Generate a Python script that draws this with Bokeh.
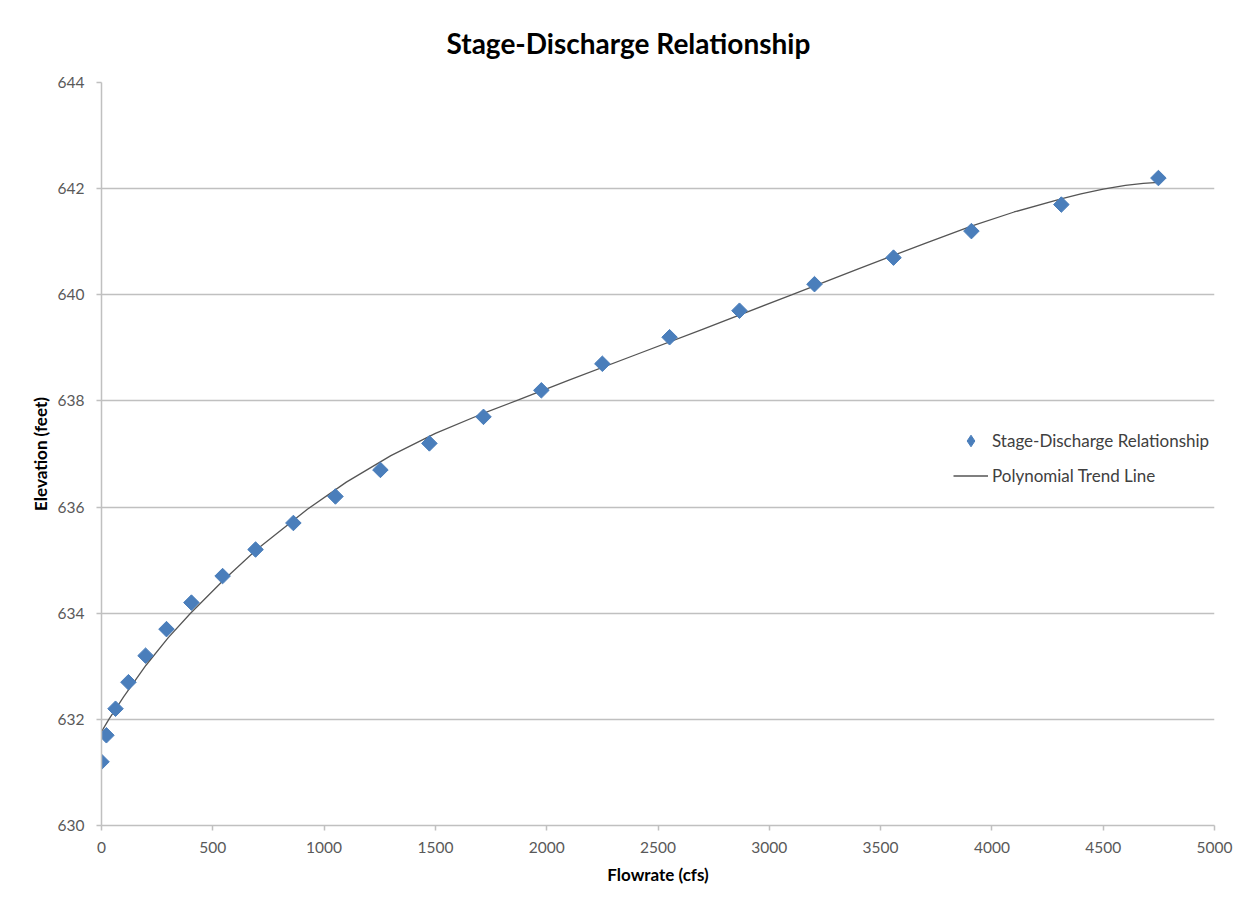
import math
from bokeh.plotting import figure
from bokeh.models import Range1d, Legend, LegendItem, FixedTicker, BoxAnnotation
from bokeh.embed import file_html
from bokeh.resources import INLINE

# ---- data ----
flow_cfs = [0, 22, 63, 121, 198, 292, 404, 544, 692, 862, 1051, 1253, 1473,
            1716, 1976, 2250, 2552, 2866, 3203, 3558, 3908, 4312, 4748]
elevation_ft = [631.2, 631.7, 632.2, 632.7, 633.2, 633.7, 634.2, 634.7, 635.2,
                635.7, 636.2, 636.7, 637.2, 637.7, 638.2, 638.7, 639.2, 639.7,
                640.2, 640.7, 641.2, 641.7, 642.2]

# polynomial trend line
trend_flow = [0, 33, 100, 200, 300, 400, 550, 700, 925, 1100, 1300, 1500, 1700,
              1873, 2100, 2400, 2700, 3100, 3400, 3700, 3911, 4100, 4315, 4400,
              4500, 4600, 4680, 4748]
trend_elev = [631.77, 632.00, 632.43, 633.02, 633.54, 634.00, 634.63, 635.21,
              635.96, 636.47, 636.97, 637.39, 637.74, 638.02, 638.39, 638.87,
              639.35, 640.00, 640.49, 640.97, 641.30, 641.56, 641.81, 641.90,
              641.99, 642.06, 642.10, 642.12]

x_ticks = [0, 500, 1000, 1500, 2000, 2500, 3000, 3500, 4000, 4500, 5000]
y_ticks = [630, 632, 634, 636, 638, 640, 642, 644]

title_text = "Stage-Discharge Relationship"
x_title = "Flowrate (cfs)"
y_title = "Elevation (feet)"
series_name = "Stage-Discharge Relationship"
trend_name = "Polynomial Trend Line"

FONT = "Lato"
GRID = "#C0C0C0"
TICKTXT = "#595959"
BLUE = "#4A7EBB"

p = figure(width=1235, height=891, output_backend="svg", toolbar_location=None,
           x_range=Range1d(0, 5000), y_range=Range1d(630, 644),
           min_border_left=101, min_border_right=21, min_border_top=82,
           min_border_bottom=66)
p.outline_line_color = None
p.background_fill_color = "white"
p.border_fill_color = "white"

# title
p.title.text = title_text
p.title.align = "left"
p.title.offset = 345
p.title.standoff = 45
p.title.text_font = FONT
p.title.text_font_style = "bold"
p.title.text_font_size = "28px"
p.title.text_color = "#000000"

# axes
for ax in (p.xaxis[0], p.yaxis[0]):
    ax.axis_line_color = GRID
    ax.axis_line_width = 1.5
    ax.major_tick_line_color = GRID
    ax.major_tick_line_width = 1.5
    ax.major_tick_out = 5
    ax.major_tick_in = 0
    ax.minor_tick_line_color = None
    ax.major_label_text_font = FONT
    ax.major_label_text_font_size = "15.5px"
    ax.major_label_text_color = TICKTXT
    ax.axis_label_text_font = FONT
    ax.axis_label_text_font_style = "bold"
    ax.axis_label_text_font_size = "17px"
    ax.axis_label_text_color = "#000000"

p.xaxis.ticker = FixedTicker(ticks=x_ticks)
p.yaxis.ticker = FixedTicker(ticks=y_ticks)
p.xaxis.axis_label = x_title
p.yaxis.axis_label = y_title
p.xaxis.major_label_standoff = 11
p.yaxis.major_label_standoff = 12
p.xaxis.axis_label_standoff = 8
p.yaxis.axis_label_standoff = 4

p.xgrid.grid_line_color = None
p.ygrid.grid_line_color = GRID
p.ygrid.grid_line_width = 1.5

# outer chart-area border (top and left edges visible in the reference)
p.add_layout(BoxAnnotation(left=7, top=5, right=1400, bottom=1200,
                           left_units="canvas", right_units="canvas",
                           top_units="canvas", bottom_units="canvas",
                           fill_alpha=0, line_color="#A6A6A6", line_width=1.5,
                           level="overlay"))

# trend line and points
tl = p.line(trend_flow, trend_elev, line_color="#555555", line_width=1.3)
# diamond glyph for the legend swatch (hidden under the rotated squares)
sw = p.scatter(flow_cfs, elevation_ft, marker="diamond", size=9,
               fill_color=BLUE, line_color=BLUE)
sc = p.scatter(flow_cfs, elevation_ft, marker="square", angle=math.pi / 4,
               size=11, fill_color=BLUE, line_color=BLUE)

legend = Legend(items=[LegendItem(label=series_name, renderers=[sw]),
                       LegendItem(label=trend_name, renderers=[tl])],
                location=(852, 332), orientation="vertical",
                border_line_color=None, background_fill_alpha=0,
                padding=0, margin=0, spacing=0,
                glyph_width=35, glyph_height=29, label_height=35,
                label_standoff=4,
                label_text_font=FONT, label_text_font_size="17px",
                label_text_color="#404040")
p.add_layout(legend, "center")

open("out.html", "w").write(file_html(p, INLINE))
